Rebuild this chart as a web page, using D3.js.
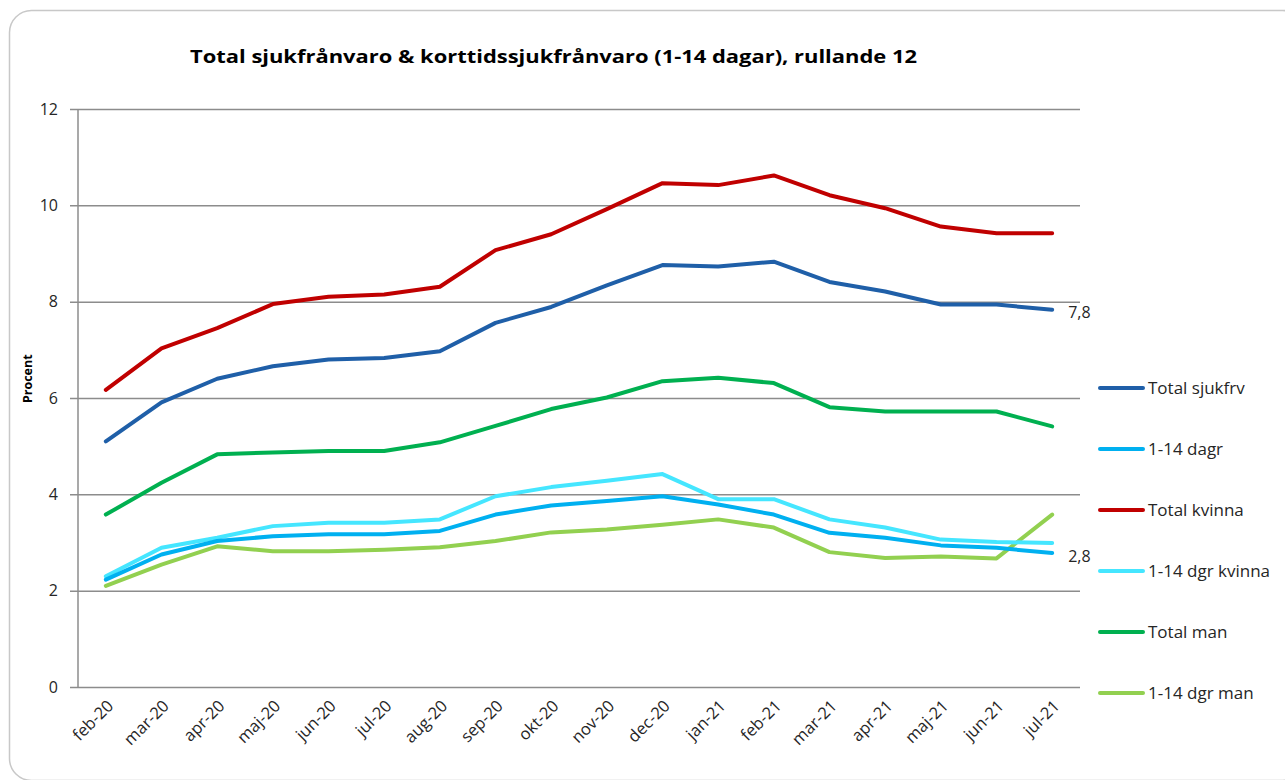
<!DOCTYPE html>
<html lang="sv">
<head>
<meta charset="UTF-8">
<title>Total sjukfrånvaro & korttidssjukfrånvaro</title>
<script src="https://d3js.org/d3.v7.min.js"></script>
<style>
    body { margin: 0; background: #fff; font-family: "Open Sans", Arial, sans-serif; }
    svg text { fill: #262626; }
</style>
</head>
<body>
<svg width="1285" height="780"></svg>
<script>
    const months = ["feb-20", "mar-20", "apr-20", "maj-20", "jun-20", "jul-20", "aug-20", "sep-20", "okt-20",
                    "nov-20", "dec-20", "jan-21", "feb-21", "mar-21", "apr-21", "maj-21", "jun-21", "jul-21"];

    const totalSjukfrv = [5.10, 5.91, 6.40, 6.66, 6.80, 6.83, 6.97, 7.56, 7.89, 8.34, 8.76, 8.73, 8.83, 8.41, 8.21, 7.94, 7.94, 7.83];
    const dagr114      = [2.23, 2.75, 3.03, 3.13, 3.17, 3.17, 3.24, 3.58, 3.77, 3.86, 3.96, 3.79, 3.58, 3.20, 3.10, 2.94, 2.89, 2.78];
    const totalKvinna  = [6.17, 7.03, 7.45, 7.95, 8.10, 8.15, 8.31, 9.07, 9.40, 9.92, 10.46, 10.42, 10.62, 10.21, 9.94, 9.56, 9.42, 9.42];
    const dgrKvinna    = [2.30, 2.89, 3.10, 3.34, 3.41, 3.41, 3.48, 3.96, 4.15, 4.28, 4.42, 3.90, 3.90, 3.48, 3.31, 3.06, 3.01, 2.99];
    const totalMan     = [3.58, 4.24, 4.83, 4.87, 4.90, 4.90, 5.08, 5.42, 5.77, 6.01, 6.35, 6.42, 6.31, 5.81, 5.72, 5.72, 5.72, 5.41];
    const dgrMan       = [2.10, 2.54, 2.92, 2.82, 2.82, 2.85, 2.90, 3.03, 3.21, 3.27, 3.37, 3.48, 3.31, 2.80, 2.68, 2.71, 2.67, 3.58];

    const yTicks = [0, 2, 4, 6, 8, 10, 12];

    // legend order
    const series = [
        { name: "Total sjukfrv",    values: totalSjukfrv, color: "#1f5fa8", label: true },
        { name: "1-14 dagr",        values: dagr114,      color: "#00b0f0", label: true },
        { name: "Total kvinna",     values: totalKvinna,  color: "#c00000" },
        { name: "1-14 dgr kvinna",  values: dgrKvinna,    color: "#45e6ff" },
        { name: "Total man",        values: totalMan,     color: "#00b050" },
        { name: "1-14 dgr man",     values: dgrMan,       color: "#92d050" }
    ];
    // drawing order (later on top)
    const drawOrder = ["1-14 dgr man", "1-14 dgr kvinna", "1-14 dagr", "Total man", "Total kvinna", "Total sjukfrv"];

    const svg = d3.select("svg"),
          margin = {top: 109, left: 78},
          width = 1002,
          height = 578;

    // card outline
    svg.append("rect")
        .attr("x", 9.5).attr("y", 10.5)
        .attr("width", 1295).attr("height", 770)
        .attr("rx", 22)
        .attr("fill", "#fff")
        .attr("stroke", "#c8c8c8")
        .attr("stroke-width", 1.5);

    svg.append("text")
        .attr("x", 190).attr("y", 63)
        .attr("font-size", 18).attr("font-weight", "bold")
        .attr("textLength", 727).attr("lengthAdjust", "spacingAndGlyphs")
        .style("fill", "#000")
        .text("Total sjukfrånvaro & korttidssjukfrånvaro (1-14 dagar), rullande 12");

    const g = svg.append("g").attr("transform", `translate(${margin.left},${margin.top})`);

    const x = d3.scalePoint().domain(months).range([0, width]).padding(0.5);
    const y = d3.scaleLinear().domain([0, 12]).range([height, 0]);

    // y axis with gridlines
    const yAxis = g.append("g")
        .call(d3.axisLeft(y).tickValues(yTicks).tickSize(-width).tickPadding(20));
    yAxis.select(".domain").remove();
    yAxis.selectAll(".tick line")
        .attr("x1", -8)
        .attr("stroke", "#8c8c8c")
        .attr("stroke-width", 1.5);
    yAxis.selectAll(".tick text")
        .attr("font-size", 16)
        .attr("font-family", "Open Sans");

    g.append("line")
        .attr("x1", 0).attr("x2", 0)
        .attr("y1", 0).attr("y2", height)
        .attr("stroke", "#8c8c8c").attr("stroke-width", 1.5);

    // x axis labels
    const xAxis = g.append("g")
        .attr("transform", `translate(0,${height})`)
        .call(d3.axisBottom(x).tickSize(0).tickPadding(0));
    xAxis.select(".domain").remove();
    xAxis.selectAll(".tick text")
        .attr("font-size", 16.5)
        .attr("font-family", "Open Sans")
        .attr("text-anchor", "end")
        .attr("dy", 0)
        .attr("transform", "translate(8,20) rotate(-45)");

    svg.append("text")
        .attr("transform", `translate(32,${margin.top + y(6.4)}) rotate(-90)`)
        .attr("text-anchor", "middle")
        .attr("font-size", 12.5).attr("font-weight", "bold")
        .style("fill", "#000")
        .text("Procent");

    const line = d3.line()
        .x((d, i) => x(months[i]))
        .y(d => y(d));

    drawOrder.forEach(name => {
        const s = series.find(d => d.name === name);
        g.append("path")
            .datum(s.values)
            .attr("fill", "none")
            .attr("stroke", s.color)
            .attr("stroke-width", 4)
            .attr("stroke-linejoin", "round")
            .attr("stroke-linecap", "round")
            .attr("d", line);
    });

    // end value labels
    series.filter(s => s.label).forEach(s => {
        const v = s.values[s.values.length - 1];
        g.append("text")
            .attr("x", x(months[months.length - 1]) + 16)
            .attr("y", y(v) + 3)
            .attr("dy", "0.35em")
            .attr("font-size", 16)
            .text(v.toFixed(1).replace(".", ","));
    });

    // legend
    const legend = svg.append("g")
        .selectAll("g")
        .data(series)
        .join("g")
        .attr("transform", (d, i) => `translate(1100,${388 + i * 61})`);

    legend.append("line")
        .attr("x1", 0).attr("x2", 43)
        .attr("stroke", d => d.color)
        .attr("stroke-width", 4)
        .attr("stroke-linecap", "round");

    legend.append("text")
        .attr("x", 48)
        .attr("dy", "0.35em")
        .attr("font-size", 17)
        .text(d => d.name);
</script>
</body>
</html>
